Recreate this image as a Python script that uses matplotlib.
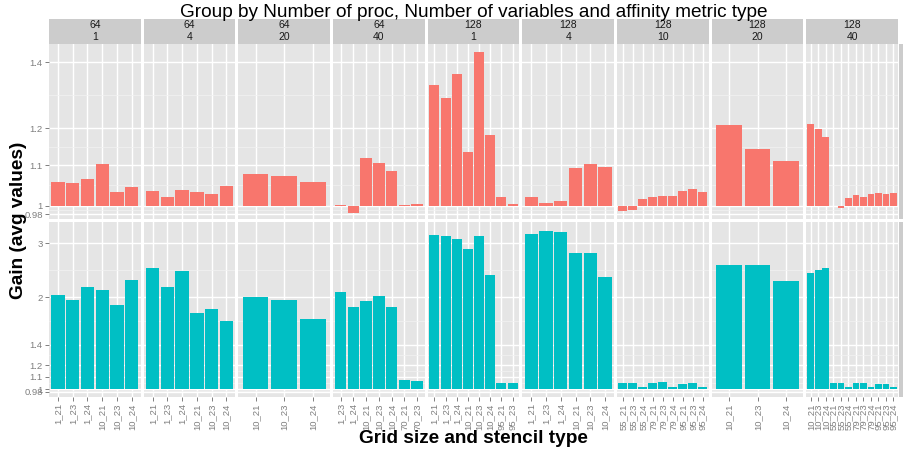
import matplotlib.pyplot as plt
import numpy as np
from matplotlib.ticker import FixedLocator, NullFormatter

plt.rcParams['font.family'] = ['Liberation Sans', 'DejaVu Sans']

# facets: number of proc / number of variables
procs = [64, 64, 64, 64, 128, 128, 128, 128, 128]
nvars = [1, 4, 20, 40, 1, 4, 10, 20, 40]

categories = [
    ['1_21', '1_23', '1_24', '10_21', '10_23', '10_24'],
    ['1_21', '1_23', '1_24', '10_21', '10_23', '10_24'],
    ['10_21', '10_23', '10_24'],
    ['1_23', '1_24', '10_21', '10_23', '10_24', '70_21', '70_23'],
    ['1_21', '1_23', '1_24', '10_21', '10_23', '10_24', '95_21', '95_23'],
    ['1_21', '1_23', '1_24', '10_21', '10_23', '10_24'],
    ['55_21', '55_23', '55_24', '79_21', '79_23', '79_24', '95_21', '95_23', '95_24'],
    ['10_21', '10_23', '10_24'],
    ['10_21', '10_23', '10_24', '55_21', '55_23', '55_24', '79_21', '79_23', '79_24',
     '95_21', '95_23', '95_24'],
]

# TM vs. Round Robin (top row)
gain_rr = [
    [1.058, 1.055, 1.065, 1.103, 1.033, 1.046],
    [1.035, 1.021, 1.038, 1.033, 1.028, 1.047],
    [1.077, 1.072, 1.057],
    [1.002, 0.984, 1.119, 1.105, 1.085, 1.001, 1.004],
    [1.328, 1.288, 1.362, 1.134, 1.434, 1.180, 1.021, 1.004],
    [1.021, 1.006, 1.011, 1.093, 1.103, 1.095],
    [0.988, 0.990, 1.016, 1.021, 1.023, 1.023, 1.035, 1.040, 1.033],
    [1.209, 1.142, 1.110],
    [1.211, 1.197, 1.175, 0.999, 0.995, 1.018, 1.025, 1.021, 1.028, 1.030, 1.028, 1.030],
]

# TM vs. Random (bottom row)
gain_rand = [
    [2.03, 1.96, 2.16, 2.11, 1.885, 2.275],
    [2.49, 2.16, 2.43, 1.775, 1.83, 1.67],
    [2.00, 1.96, 1.70],
    [2.08, 1.86, 1.94, 2.02, 1.86, 1.07, 1.065],
    [3.19, 3.17, 3.10, 2.87, 3.17, 2.36, 1.05, 1.045],
    [3.21, 3.29, 3.26, 2.79, 2.79, 2.33],
    [1.05, 1.05, 1.015, 1.05, 1.055, 1.02, 1.04, 1.045, 1.02],
    [2.55, 2.55, 2.26],
    [2.40, 2.45, 2.49, 1.05, 1.05, 1.02, 1.05, 1.05, 1.02, 1.04, 1.04, 1.015],
]

row_labels = ['TM vs. Round Robin', 'TM vs. Random']
row_colors = ['#F8766D', '#00BFC4']
row_data = [gain_rr, gain_rand]
row_ylim = [(0.9693, 1.4617), (0.9437, 3.518)]
breaks = [0.98, 1, 1.1, 1.2, 1.4, 2, 3]
break_labels = ['0.98', '1', '1.1', '1.2', '1.4', '2', '3']
minor_breaks = list(np.sqrt(np.array(breaks[:-1]) * np.array(breaks[1:])))

W, H = 904, 451
fig = plt.figure(figsize=(W / 100, H / 100), dpi=100)


def px(x0, y0, x1, y1):
    return [x0 / W, 1 - y1 / H, (x1 - x0) / W, (y1 - y0) / H]


left0, right0, gap = 49, 898, 3
pw = (right0 - left0 - gap * 8) / 9
rows_y = [(44, 219), (222, 397)]
grey50 = '#7F7F7F'

for j in range(9):
    x0 = left0 + j * (pw + gap)
    x1 = x0 + pw
    n = len(categories[j])
    xs = np.arange(n)

    # top strip
    s = fig.add_axes(px(x0, 19, x1, 44))
    s.set_facecolor('#CCCCCC')
    s.set_xticks([]); s.set_yticks([])
    for sp in s.spines.values():
        sp.set_visible(False)
    s.text(0.5, 0.5, f'{procs[j]}\n{nvars[j]}', ha='center', va='center',
           fontsize=7.5, color='#1A1A1A', linespacing=1.25, transform=s.transAxes)

    for i in range(2):
        y0, y1 = rows_y[i]
        ax = fig.add_axes(px(x0, y0, x1, y1))
        ax.set_facecolor('#E5E5E5')
        for sp in ax.spines.values():
            sp.set_visible(False)
        ax.set_yscale('log')
        vals = np.array(row_data[i][j])
        ax.bar(xs, vals - 1, bottom=1, width=0.9, color=row_colors[i], zorder=2)
        ax.set_xlim(-0.6, n - 0.4)
        ax.set_ylim(*row_ylim[i])
        ax.set_axisbelow(True)

        ax.yaxis.set_major_locator(FixedLocator(breaks))
        ax.yaxis.set_minor_locator(FixedLocator(minor_breaks))
        ax.yaxis.set_minor_formatter(NullFormatter())
        ax.set_yticklabels(break_labels)
        ax.set_xticks(xs)
        ax.set_xticklabels(categories[j], rotation=90)
        ax.grid(axis='x', which='major', color='white', lw=1.0)
        ax.grid(axis='y', which='major', color='white', lw=1.0)
        ax.grid(axis='y', which='minor', color='#F2F2F2', lw=0.5)
        ax.tick_params(axis='y', which='minor', left=False)
        ax.tick_params(axis='both', which='major', colors=grey50, labelcolor=grey50,
                       labelsize=6.8, length=3, width=0.7, pad=1.5)

        if j > 0:
            ax.tick_params(axis='y', left=False, labelleft=False)
        if i == 0:
            ax.tick_params(axis='x', bottom=False, labelbottom=False)

        if j == 8:
            rs = fig.add_axes(px(899, y0, 916, y1))
            rs.set_facecolor('#CCCCCC')
            rs.set_xticks([]); rs.set_yticks([])
            for sp in rs.spines.values():
                sp.set_visible(False)
            rs.text(0.5, 0.5, row_labels[i], ha='center', va='center', rotation=-90,
                    fontsize=7.5, color='#1A1A1A', transform=rs.transAxes)

mid_x = (left0 + right0) / 2
fig.text(mid_x / W, 1 - 17 / H,
         'Group by Number of proc, Number of variables and affinity metric type',
         ha='center', va='baseline', fontsize=13.7, color='black')
fig.text(mid_x / W, 1 - 443 / H, 'Grid size and stencil type', ha='center',
         va='baseline', fontsize=13.7, fontweight='bold')
fig.text(19 / W, 1 - 220 / H, 'Gain (avg values)', ha='center', va='center',
         rotation=90, fontsize=13.7, fontweight='bold')

fig.savefig('out.png', dpi=100)
